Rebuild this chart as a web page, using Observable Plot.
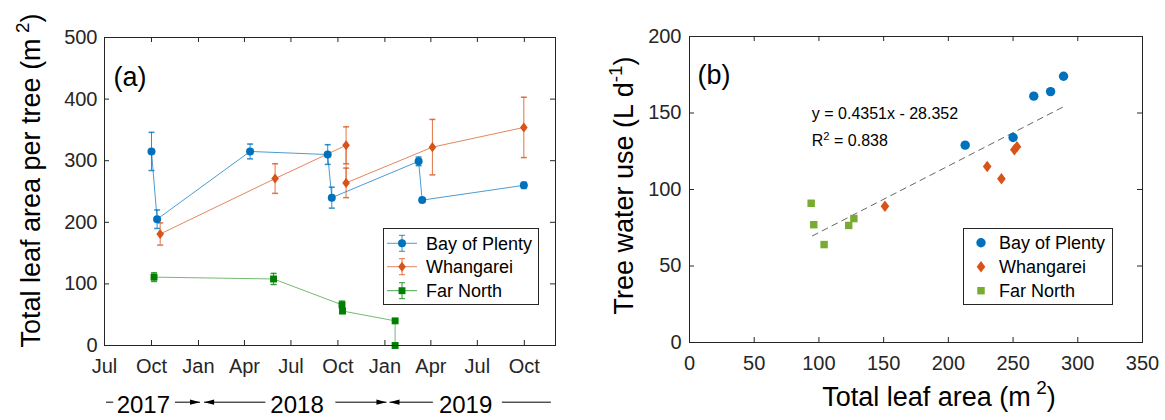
<!DOCTYPE html>
<html>
<head>
<meta charset="utf-8">
<script src="https://cdn.jsdelivr.net/npm/d3@7"></script>
<script src="https://cdn.jsdelivr.net/npm/@observablehq/plot@0.6"></script>
<style>
  body { margin: 0; background: #fff; }
  #wrap { display: flex; width: 1165px; height: 420px; }
  #wrap svg { overflow: visible; flex: none; }
</style>
</head>
<body>
<div id="wrap"></div>
<script>
// ---------- series ----------
const sites = ["Bay of Plenty", "Whangarei", "Far North"];
const colorsA = ["#0072BD", "#D95319", "#008000"];
const colorsB = ["#0072BD", "#D95319", "#77AC30"];

// (a) total leaf area per tree (m2) by sampling date, mean ± error
const bopDates = ["2017-10-01", "2017-10-12", "2018-04-12", "2018-09-11", "2018-09-19", "2019-03-08", "2019-03-15", "2019-09-30"];
const bopArea  = [315, 205, 315, 310, 240, 299, 236, 260];
const bopErr   = [31, 15, 12, 16, 17, 7, 3, 5];

const whgDates = ["2017-10-18", "2018-05-31", "2018-10-17", "2018-10-17", "2019-04-04", "2019-09-30"];
const whgArea  = [181, 271, 325, 264, 322, 354];
const whgErr   = [18, 24, 30, 24, 45, 49];

const fnDates  = ["2017-10-06", "2018-05-28", "2018-10-09", "2018-10-10", "2019-01-21", "2019-01-21"];
const fnArea   = [111, 108, 66, 56, 40, 0];
const fnErr    = [7, 9, 6, 4, 1, 0];

// (a) axis ticks
const xTickDates  = ["2017-07-01", "2017-10-01", "2018-01-01", "2018-04-01", "2018-07-01", "2018-10-01", "2019-01-01", "2019-04-01", "2019-07-01", "2019-10-01"];
const xTickLabels = ["Jul", "Oct", "Jan", "Apr", "Jul", "Oct", "Jan", "Apr", "Jul", "Oct"];
const yTicksA = [0, 100, 200, 300, 400, 500];

// (a) year row under the month axis
const yearNames      = ["2017", "2018", "2019"];
const yearLabelDates = ["2017-09-15", "2018-07-13", "2019-06-08"];
const yearArrowFrom  = ["2017-11-16", "2018-05-12", "2018-09-26", "2019-04-05"];
const yearArrowTo    = ["2018-01-04", "2018-01-12", "2019-01-04", "2019-01-10"];
const yearLineFrom   = ["2017-07-04", "2019-08-18"];
const yearLineTo     = ["2017-07-18", "2019-11-22"];

// (b) tree water use (L/d) against total leaf area (m2)
const bopLA  = [213, 250, 266, 279, 289];
const bopUse = [129, 134, 161, 164, 174];
const whgLA  = [151, 230, 241, 251, 253];
const whgUse = [89, 115, 107, 126, 128];
const fnLA   = [94, 96, 104, 123, 127];
const fnUse  = [91, 77, 64, 76.5, 81];

// (b) linear fit
const fitSlope = 0.4351;
const fitIntercept = 28.352;
const fitRange = [95, 289];
const fitText = ["y = 0.4351x - 28.352", "R^{2} = 0.838"];

const xTicksB = [0, 50, 100, 150, 200, 250, 300, 350];
const yTicksB = [0, 50, 100, 150, 200];

// ---------- helpers ----------
const FONT = "'Liberation Sans', Arial, Helvetica, sans-serif";
const INK = "#262626";
const parse = d3.utcParse("%Y-%m-%d");

// marker shapes (size = π r², as Plot passes it)
const diamond = {draw(ctx, size) {
  const r = Math.sqrt(size / Math.PI), w = r * 0.85, h = r * 1.12;
  ctx.moveTo(0, -h); ctx.lineTo(w, 0); ctx.lineTo(0, h); ctx.lineTo(-w, 0); ctx.closePath();
}};
const cap = {draw(ctx, size) {
  const r = Math.sqrt(size / Math.PI);
  ctx.moveTo(-r, 0); ctx.lineTo(r, 0);
}};
// filled arrow heads with the tip at the anchor point
const headRight = {draw(ctx) { ctx.moveTo(0, 0); ctx.lineTo(-10, -2.6); ctx.lineTo(-10, 2.6); ctx.closePath(); }};
const headLeft  = {draw(ctx) { ctx.moveTo(0, 0); ctx.lineTo(10, -2.6); ctx.lineTo(10, 2.6); ctx.closePath(); }};

const symbols = ["circle", diamond, "square"];
const d3Symbols = [d3.symbolCircle, diamond, d3.symbolSquare];
const markerRA = [4, 4.5, 3.9];
const markerRB = [4.7, 5.1, 4.2];

// replace ^{...} in text with raised tspans
function superscripts(root) {
  root.querySelectorAll("text, tspan").forEach(t => {
    if (t.children.length) return;
    const s = t.textContent;
    if (!s.includes("^{")) return;
    const fs = parseFloat(getComputedStyle(t).fontSize);
    const shift = 0.42 * fs;
    t.textContent = "";
    const parts = s.split(/(\^\{[^}]*\})/).filter(p => p !== "");
    let raised = false;
    for (const p of parts) {
      const ts = document.createElementNS("http://www.w3.org/2000/svg", "tspan");
      const sup = p.startsWith("^{");
      ts.textContent = sup ? p.slice(2, -1) : p;
      if (sup) { ts.setAttribute("font-size", fs * 0.7); ts.setAttribute("dy", -shift); raised = true; }
      else if (raised) { ts.setAttribute("dy", shift); raised = false; }
      t.appendChild(ts);
    }
  });
}

function frameTicks(xTicks, yTicks, innerW, innerH, len) {
  return [
    Plot.tickX(xTicks, {x: d => d, insetTop: innerH - len, stroke: INK}),
    Plot.tickX(xTicks, {x: d => d, insetBottom: innerH - len, stroke: INK}),
    Plot.tickY(yTicks, {y: d => d, insetRight: innerW - len, stroke: INK}),
    Plot.tickY(yTicks, {y: d => d, insetLeft: innerW - len, stroke: INK})
  ];
}

function drawLegend(svg, cfg) {
  const g = d3.select(svg).append("g")
    .attr("font-family", FONT).attr("font-size", 18).attr("text-anchor", "start");
  g.append("rect")
    .attr("x", cfg.x0 + 0.5).attr("y", cfg.y0 + 0.5)
    .attr("width", cfg.x1 - cfg.x0).attr("height", cfg.y1 - cfg.y0)
    .attr("fill", "#fff").attr("stroke", INK).attr("stroke-width", 1);
  sites.forEach((name, i) => {
    const y = cfg.rows[i], c = cfg.colors[i];
    if (cfg.lineFrom != null) {
      g.append("line").attr("x1", cfg.lineFrom).attr("x2", cfg.lineTo).attr("y1", y).attr("y2", y)
        .attr("stroke", c).attr("stroke-opacity", 0.7);
      g.append("line").attr("x1", cfg.markerX).attr("x2", cfg.markerX).attr("y1", y - 8).attr("y2", y + 8)
        .attr("stroke", c).attr("stroke-opacity", 0.8);
      for (const e of [-8, 8]) {
        g.append("line").attr("x1", cfg.markerX - 3).attr("x2", cfg.markerX + 3).attr("y1", y + e).attr("y2", y + e)
          .attr("stroke", c).attr("stroke-opacity", 0.8);
      }
    }
    const r = cfg.radii[i];
    g.append("path").attr("d", d3.symbol(d3Symbols[i], Math.PI * r * r)())
      .attr("transform", `translate(${cfg.markerX},${y})`).attr("fill", c);
    g.append("text").attr("x", cfg.textX).attr("y", y).attr("dy", "0.35em").attr("fill", "#000").text(name);
  });
}

// ---------- (a) leaf area through time ----------
const seriesA = [[bopDates, bopArea, bopErr], [whgDates, whgArea, whgErr], [fnDates, fnArea, fnErr]]
  .map(([d, v, e], k) => d.map((s, i) => ({site: sites[k], date: parse(s), area: v[i], err: e[i]})));

const WA = 580, HA = 420, mA = {l: 104, r: 25, t: 37, b: 75};
const innerWA = WA - mA.l - mA.r, innerHA = HA - mA.t - mA.b;
const xTicks = xTickDates.map(parse);

const marksA = [];
seriesA.forEach((rows, k) => {
  const c = colorsA[k];
  const withErr = rows.filter(d => d.err > 0);
  marksA.push(
    Plot.line(rows, {x: "date", y: "area", stroke: c, strokeWidth: 1, strokeOpacity: k === 2 ? 0.55 : 0.7}),
    Plot.ruleX(withErr, {x: "date", y1: d => d.area - d.err, y2: d => d.area + d.err, stroke: c, strokeOpacity: 0.8}),
    Plot.dot(withErr, {x: "date", y: d => d.area + d.err, symbol: cap, r: 3, stroke: c, strokeOpacity: 0.8, fill: "none"}),
    Plot.dot(withErr, {x: "date", y: d => d.area - d.err, symbol: cap, r: 3, stroke: c, strokeOpacity: 0.8, fill: "none"})
  );
});
seriesA.forEach((rows, k) => {
  marksA.push(Plot.dot(rows, {x: "date", y: "area", symbol: symbols[k], r: markerRA[k], fill: colorsA[k], stroke: "none"}));
});

const yearLabels = yearNames.map((n, i) => ({name: n, date: parse(yearLabelDates[i])}));
const yearArrows = yearArrowFrom.map((f, i) => ({from: parse(f), to: parse(yearArrowTo[i])}));
const yearLines = yearLineFrom.map((f, i) => ({from: parse(f), to: parse(yearLineTo[i])}));
const ROW_ARROW = -92, ROW_TEXT = -97;

const plotA = Plot.plot({
  width: WA, height: HA,
  marginLeft: mA.l, marginRight: mA.r, marginTop: mA.t, marginBottom: mA.b,
  x: {type: "utc", domain: [parse("2017-07-01"), parse("2019-12-01")]},
  y: {domain: [0, 500]},
  style: {fontFamily: FONT, fontSize: "20px", color: INK, background: "transparent", overflow: "visible"},
  marks: [
    ...marksA,
    Plot.frame({stroke: INK, strokeWidth: 1}),
    ...frameTicks(xTicks, yTicksA, innerWA, innerHA, 5),
    Plot.axisX({ticks: xTicks, tickSize: 0, tickPadding: 13, label: null, fontSize: 20,
      tickFormat: d => xTickLabels[xTicks.findIndex(t => +t === +d)]}),
    Plot.axisY({ticks: yTicksA, tickSize: 0, tickPadding: 7, label: null, fontSize: 20}),
    Plot.text(["Total leaf area per tree (m\u2009^{2})"], {text: d => d, frameAnchor: "left", textAnchor: "middle", rotate: -90, dx: -73, dy: -11, fontSize: 27, fill: "#000"}),
    Plot.text(["(a)"], {text: d => d, frameAnchor: "top-left", textAnchor: "start", dx: 9, dy: 29, fontSize: 27, fill: "#000"}),
    Plot.text(yearLabels, {x: "date", y: ROW_TEXT, text: "name", fontSize: 24, fill: "#000"}),
    Plot.link(yearArrows, {x1: "from", x2: "to", y1: ROW_ARROW, y2: ROW_ARROW, stroke: "#000", strokeWidth: 1}),
    Plot.dot(yearArrows.filter(d => d.to > d.from), {x: "to", y: ROW_ARROW, symbol: headRight, fill: "#000", stroke: "none"}),
    Plot.dot(yearArrows.filter(d => d.to < d.from), {x: "to", y: ROW_ARROW, symbol: headLeft, fill: "#000", stroke: "none"}),
    Plot.link(yearLines, {x1: "from", x2: "to", y1: ROW_ARROW, y2: ROW_ARROW, stroke: "#000", strokeWidth: 1})
  ]
});

// ---------- (b) water use vs leaf area ----------
const seriesB = [[bopLA, bopUse], [whgLA, whgUse], [fnLA, fnUse]]
  .map(([a, u], k) => a.map((v, i) => ({site: sites[k], area: v, use: u[i]})));
const fitLine = fitRange.map(x => ({area: x, use: fitSlope * x + fitIntercept}));

const WB = 585, HB = 420, mB = {l: 109, r: 23, t: 36, b: 78};
const innerWB = WB - mB.l - mB.r, innerHB = HB - mB.t - mB.b;

const plotB = Plot.plot({
  width: WB, height: HB,
  marginLeft: mB.l, marginRight: mB.r, marginTop: mB.t, marginBottom: mB.b,
  x: {domain: [0, 350]},
  y: {domain: [0, 200]},
  style: {fontFamily: FONT, fontSize: "20px", color: INK, background: "transparent", overflow: "visible"},
  marks: [
    Plot.line(fitLine, {x: "area", y: "use", stroke: "#555", strokeWidth: 0.9, strokeDasharray: "6,5"}),
    ...seriesB.map((rows, k) => Plot.dot(rows, {x: "area", y: "use", symbol: symbols[k], r: markerRB[k], fill: colorsB[k], stroke: "none"})),
    Plot.frame({stroke: INK, strokeWidth: 1}),
    ...frameTicks(xTicksB, yTicksB, innerWB, innerHB, 5),
    Plot.axisX({ticks: xTicksB, tickSize: 0, tickPadding: 13, label: null, fontSize: 20}),
    Plot.axisY({ticks: yTicksB, tickSize: 0, tickPadding: 8, label: null, fontSize: 20}),
    Plot.text([fitText[0]], {text: d => d, x: 94.5, y: 149.5, textAnchor: "start", fontSize: 16, fill: "#000"}),
    Plot.text([fitText[1]], {text: d => d, x: 94.5, y: 131.5, textAnchor: "start", fontSize: 16, fill: "#000"}),
    Plot.text(["Tree water use (L d^{-1})"], {text: d => d, frameAnchor: "left", textAnchor: "middle", rotate: -90, dx: -65, dy: -4, fontSize: 27, fill: "#000"}),
    Plot.text(["Total leaf area (m\u2009^{2})"], {text: d => d, frameAnchor: "bottom", textAnchor: "middle", dx: 23, dy: 63, fontSize: 27, fill: "#000"}),
    Plot.text(["(b)"], {text: d => d, frameAnchor: "top-left", textAnchor: "start", dx: 8, dy: 28, fontSize: 27, fill: "#000"})
  ]
});

const wrap = document.getElementById("wrap");
wrap.appendChild(plotA);
wrap.appendChild(plotB);

drawLegend(plotA, {x0: 383, y0: 228, x1: 538, y1: 304, rows: [243.3, 266.7, 290.7],
  lineFrom: 387, lineTo: 417, markerX: 402, textX: 426, colors: colorsA, radii: markerRA});
drawLegend(plotB, {x0: 383, y0: 228, x1: 532, y1: 304, rows: [242.7, 266.7, 290.7],
  markerX: 401, textX: 419, colors: colorsB, radii: markerRB});

superscripts(plotA);
superscripts(plotB);
</script>
</body>
</html>
